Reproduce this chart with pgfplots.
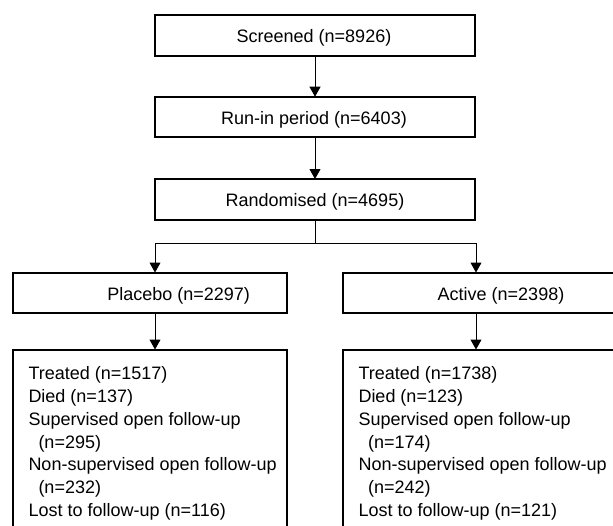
\documentclass[border=0pt]{standalone}
\usepackage{fontspec}
\setmainfont{Liberation Sans}
\usepackage{pgfplots}
\pgfplotsset{compat=1.18}
\usetikzlibrary{arrows.meta}
\tikzset{txt/.style={inner sep=0pt, font=\fontsize{18bp}{22.8bp}\selectfont}}
\begin{document}
\begin{tikzpicture}
\begin{axis}[
  width=613bp, height=526bp, scale only axis,
  xmin=0, xmax=613, ymin=0, ymax=526, y dir=reverse,
  hide axis, clip=false,
]
% boxes (thick)
\addplot[black, line width=2bp, line cap=rect, line join=miter] coordinates {(155,14.7)(475,14.7)(475,56)(155,56)(155,14.7)};
\addplot[black, line width=2bp, line cap=rect, line join=miter] coordinates {(155,96.7)(475,96.7)(475,137)(155,137)(155,96.7)};
\addplot[black, line width=2bp, line cap=rect, line join=miter] coordinates {(155,179)(475,179)(475,220)(155,220)(155,179)};
\addplot[black, line width=2bp, line cap=rect, line join=miter] coordinates {(12.5,272.5)(287,272.5)(287,313)(12.5,313)(12.5,272.5)};
\addplot[black, line width=2bp, line cap=rect, line join=miter] coordinates {(620,272.5)(343.3,272.5)(343.3,313)(620,313)};
\addplot[black, line width=2bp, line cap=rect, line join=miter] coordinates {(12.5,530)(12.5,349.5)(287,349.5)(287,530)};
\addplot[black, line width=2bp, line cap=rect, line join=miter] coordinates {(620,349.5)(343.3,349.5)(343.3,530)};
% connectors
\addplot[black, line width=1bp, -{Triangle[length=10bp,width=11bp]}] coordinates {(315,56)(315,96.7)};
\addplot[black, line width=1bp, -{Triangle[length=10bp,width=11bp]}] coordinates {(315,137)(315,179)};
\addplot[black, line width=1bp] coordinates {(315,220)(315,243)};
\addplot[black, line width=1bp] coordinates {(155,243)(476,243)};
\addplot[black, line width=1bp, -{Triangle[length=10bp,width=11bp]}] coordinates {(155,243)(155,272.5)};
\addplot[black, line width=1bp, -{Triangle[length=10bp,width=11bp]}] coordinates {(476,243)(476,272.5)};
\addplot[black, line width=1bp, -{Triangle[length=10bp,width=11bp]}] coordinates {(155,313)(155,349.5)};
\addplot[black, line width=1bp, -{Triangle[length=10bp,width=11bp]}] coordinates {(476,313)(476,349.5)};
% texts
\node[txt, anchor=base] at (axis cs:314,42.3) {Screened (n=8926)};
\node[txt, anchor=base] at (axis cs:314,124.3) {Run-in period (n=6403)};
\node[txt, anchor=base] at (axis cs:315,206.3) {Randomised (n=4695)};
\node[txt, anchor=base] at (axis cs:178.7,300) {Placebo (n=2297)};
\node[txt, anchor=base] at (axis cs:501,300) {Active (n=2398)};
\node[txt, anchor=base west] at (axis cs:28.3,379.3) {Treated (n=1517)};
\node[txt, anchor=base west] at (axis cs:28.3,402.2) {Died (n=137)};
\node[txt, anchor=base west] at (axis cs:28.3,425.1) {Supervised open follow-up};
\node[txt, anchor=base west] at (axis cs:38.3,448) {(n=295)};
\node[txt, anchor=base west] at (axis cs:28.3,470.9) {Non-supervised open follow-up};
\node[txt, anchor=base west] at (axis cs:38.3,493.8) {(n=232)};
\node[txt, anchor=base west] at (axis cs:28.3,516.7) {Lost to follow-up (n=116)};
\node[txt, anchor=base west] at (axis cs:358.3,379.3) {Treated (n=1738)};
\node[txt, anchor=base west] at (axis cs:358.3,402.2) {Died (n=123)};
\node[txt, anchor=base west] at (axis cs:358.3,425.1) {Supervised open follow-up};
\node[txt, anchor=base west] at (axis cs:368,448) {(n=174)};
\node[txt, anchor=base west] at (axis cs:358.3,470.9) {Non-supervised open follow-up};
\node[txt, anchor=base west] at (axis cs:368,493.8) {(n=242)};
\node[txt, anchor=base west] at (axis cs:358.3,516.7) {Lost to follow-up (n=121)};
\end{axis}
\pgfresetboundingbox
\path (current axis.south west) rectangle (current axis.north east);
\end{tikzpicture}
\end{document}
